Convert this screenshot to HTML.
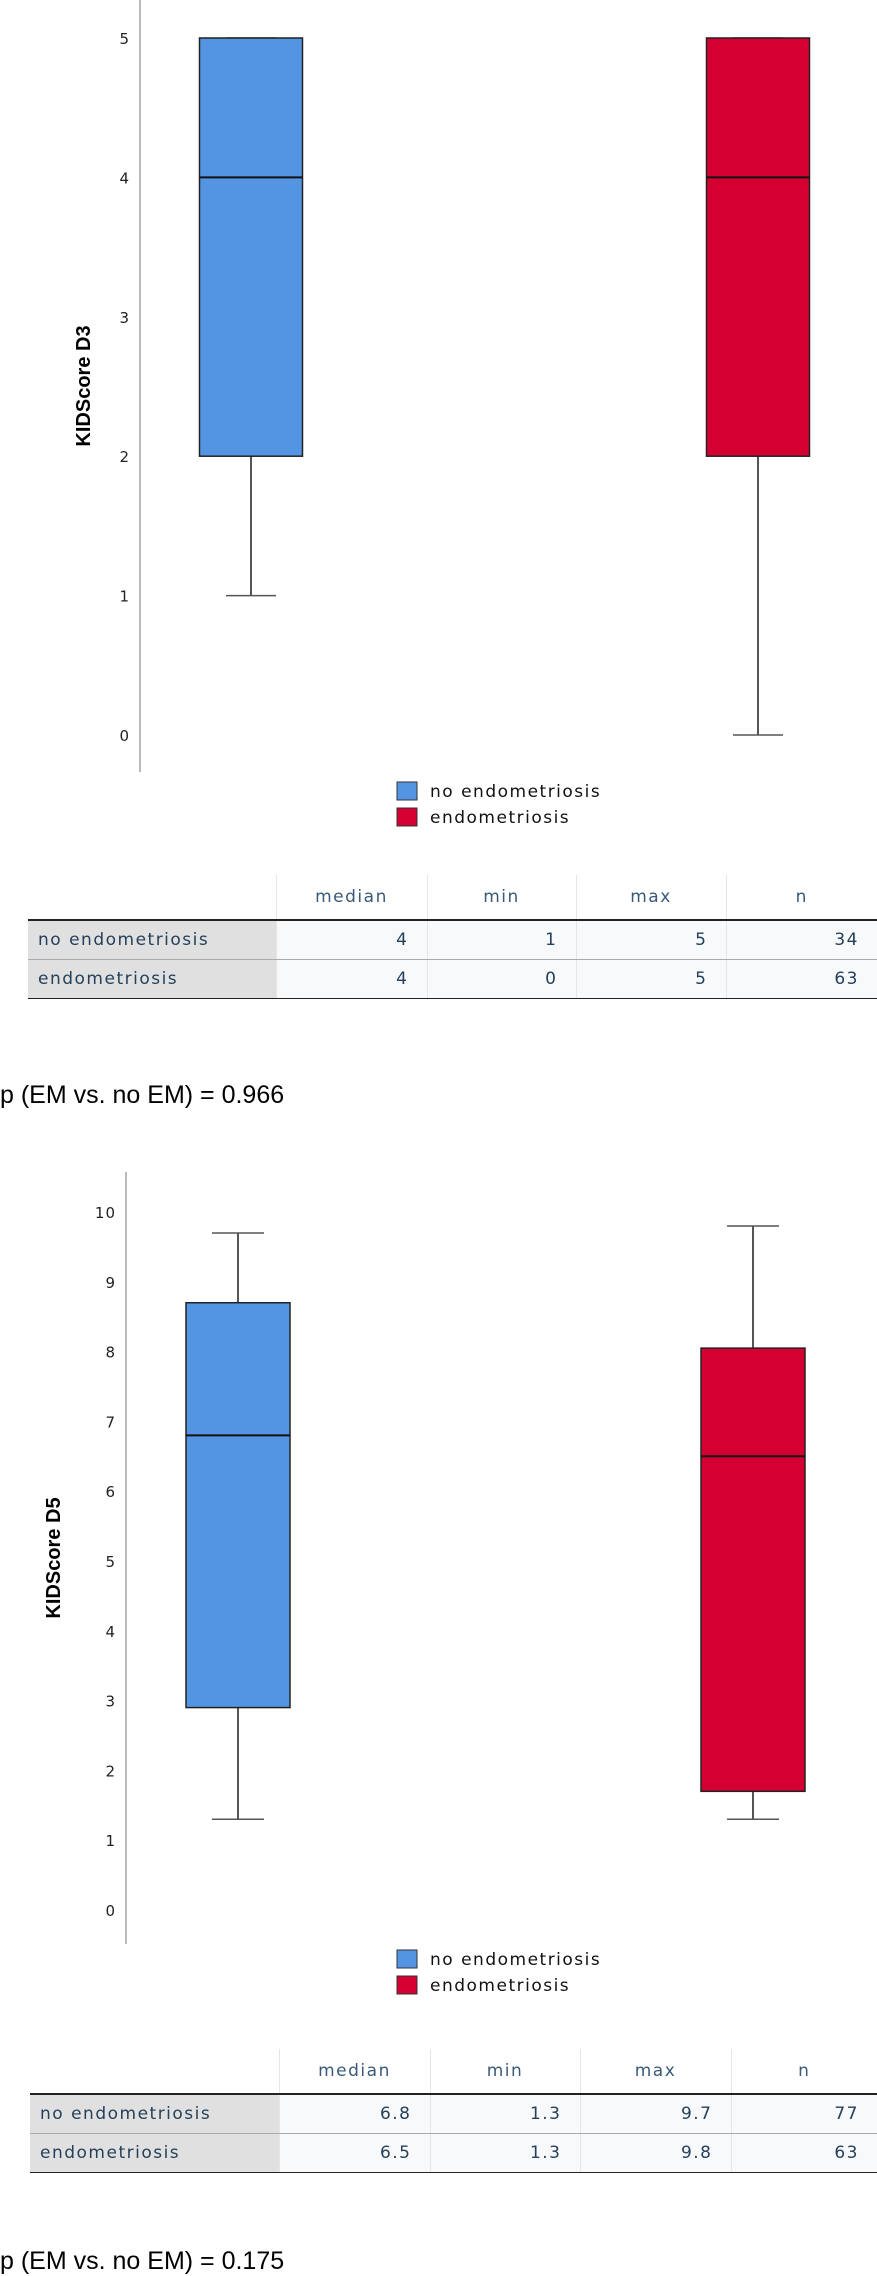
<!DOCTYPE html>
<html><head><meta charset="utf-8"><style>
body{margin:0;width:877px;height:2276px;background:#fff;position:relative;font-family:"DejaVu Sans","Liberation Sans",sans-serif;overflow:hidden}
svg{position:absolute;left:0;top:0}
table{position:absolute;border-collapse:collapse;table-layout:fixed;font-size:17px;letter-spacing:1.5px;color:#25405a}
th{height:44px;padding:0 18px;text-align:center;font-weight:normal;color:#3a5a78;border-left:1px solid #e6e6e6}
td{height:38px;padding:0 18px;text-align:right;border-left:1px solid #e6e6e6;background:#f8f9fb;white-space:nowrap}
td.l{text-align:left;background:#e0e0e0;padding-left:10px;border-left:none}
tr.r1 td{border-top:2px solid #222;border-bottom:1px solid #aaa}
tr.r2 td{border-bottom:1px solid #222}
.p{position:absolute;left:0;font-family:"Liberation Sans",sans-serif;font-size:25px;color:#000;line-height:30px}
</style></head><body>
<svg id="c" width="877" height="2276"></svg>

<table style="left:28px;top:875px;width:849px">
<colgroup><col style="width:248px"><col style="width:151px"><col style="width:149px"><col style="width:150px"><col style="width:151px"></colgroup>
<tr><th style="border:none"></th><th>median</th><th>min</th><th>max</th><th>n</th></tr>
<tr class="r1"><td class="l">no endometriosis</td><td>4</td><td>1</td><td>5</td><td>34</td></tr>
<tr class="r2"><td class="l">endometriosis</td><td>4</td><td>0</td><td>5</td><td>63</td></tr>
</table>
<div class="p" style="top:1080px">p (EM vs. no EM) = 0.966</div>

<table style="left:30px;top:2049px;width:847px">
<colgroup><col style="width:249px"><col style="width:151px"><col style="width:150px"><col style="width:151px"><col style="width:146px"></colgroup>
<tr><th style="border:none"></th><th>median</th><th>min</th><th>max</th><th>n</th></tr>
<tr class="r1"><td class="l">no endometriosis</td><td>6.8</td><td>1.3</td><td>9.7</td><td>77</td></tr>
<tr class="r2"><td class="l">endometriosis</td><td>6.5</td><td>1.3</td><td>9.8</td><td>63</td></tr>
</table>
<div class="p" style="top:2246px">p (EM vs. no EM) = 0.175</div>

<script>
const groups = ["no endometriosis","endometriosis"];
const colors = ["#5495e3","#d50032"];
const d3Min = [1,0], d3Q1 = [2,2], d3Med = [4,4], d3Q3 = [5,5], d3Max = [5,5];
const d3Ticks = [0,1,2,3,4,5];
const d5Min = [1.3,1.3], d5Q1 = [2.9,1.7], d5Med = [6.8,6.5], d5Q3 = [8.7,8.05], d5Max = [9.7,9.8];
const d5Ticks = [0,1,2,3,4,5,6,7,8,9,10];

const NS="http://www.w3.org/2000/svg", svg=document.getElementById('c');
function mk(t,a,txt){const e=document.createElementNS(NS,t);for(const k in a)e.setAttribute(k,a[k]);if(txt!=null)e.textContent=txt;svg.appendChild(e);return e;}

function chart(cfg){
  const y=v=>cfg.y0+(cfg.y1-cfg.y0)*(v-cfg.vmin)/(cfg.vmax-cfg.vmin);
  let e=mk('line',{x1:cfg.ax,x2:cfg.ax,y1:cfg.axTop,y2:cfg.axBot,stroke:'#bbb','stroke-width':2});
  
  cfg.ticks.forEach(t=>{const l=mk('text',{x:cfg.ax-10,y:y(t)+6,'text-anchor':'end','font-size':15,fill:'#222','letter-spacing':1,'font-family':'DejaVu Sans, sans-serif'},t);
    });
  const tt=mk('text',{x:0,y:0,transform:`translate(${cfg.tx},${cfg.ty}) rotate(-90)`,'text-anchor':'middle','font-size':20,'font-weight':'bold','font-family':'Liberation Sans Narrow, Liberation Sans, sans-serif'},cfg.title);
  
  for(let i=0;i<2;i++){
    const cx=cfg.cx[i],w=cfg.bw,cw=cfg.cw;
    let a=mk('line',{x1:cx,x2:cx,y1:y(cfg.max[i]),y2:y(cfg.q3[i]),stroke:'#555','stroke-width':2});
    
    a=mk('line',{x1:cx,x2:cx,y1:y(cfg.q1[i]),y2:y(cfg.min[i]),stroke:'#555','stroke-width':2});
    
    a=mk('line',{x1:cx-cw/2,x2:cx+cw/2,y1:y(cfg.max[i]),y2:y(cfg.max[i]),stroke:'#555','stroke-width':1.5});
    
    a=mk('line',{x1:cx-cw/2,x2:cx+cw/2,y1:y(cfg.min[i]),y2:y(cfg.min[i]),stroke:'#555','stroke-width':1.5});
    
    a=mk('rect',{x:cx-w/2,y:y(cfg.q3[i]),width:w,height:y(cfg.q1[i])-y(cfg.q3[i]),fill:colors[i],stroke:'#222','stroke-width':1.5});
    
    a=mk('line',{x1:cx-w/2,x2:cx+w/2,y1:y(cfg.med[i]),y2:y(cfg.med[i]),stroke:'#111','stroke-width':2});
    
  }
  groups.forEach((g,i)=>{
    let r=mk('rect',{x:397,y:cfg.ly+i*26,width:20,height:18,fill:colors[i],stroke:'#333','stroke-width':1});
    
    let t=mk('text',{x:430,y:cfg.ly+i*26+15,'font-size':17,'letter-spacing':1.5,fill:'#111','font-family':'DejaVu Sans, sans-serif'},g);
    
  });
}
chart({vmin:0,vmax:5,y0:735,y1:38,ax:140,axTop:0,axBot:772,ticks:d3Ticks,title:'KIDScore D3',tx:90,ty:386,
  cx:[251,758],bw:103,cw:50,min:d3Min,q1:d3Q1,med:d3Med,q3:d3Q3,max:d3Max,ly:782});
chart({vmin:0,vmax:10,y0:1910,y1:1212,ax:126,axTop:1172,axBot:1944,ticks:d5Ticks,title:'KIDScore D5',tx:60,ty:1558,
  cx:[238,753],bw:104,cw:52,min:d5Min,q1:d5Q1,med:d5Med,q3:d5Q3,max:d5Max,ly:1950});
</script>
</body></html>
